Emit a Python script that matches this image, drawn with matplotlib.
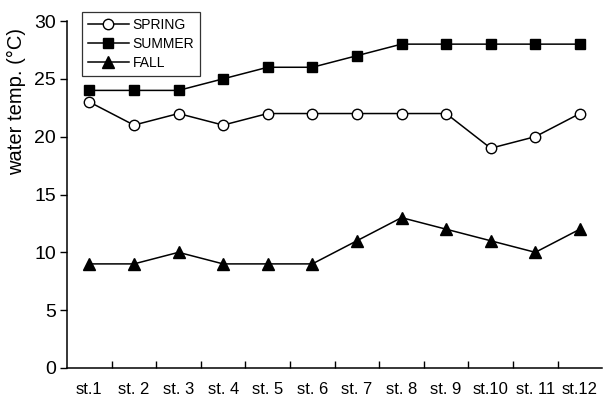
import numpy as np
import matplotlib.pyplot as plt

plt.rcParams['font.family'] = ['Liberation Sans', 'DejaVu Sans']

stations = ['st.1', 'st. 2', 'st. 3', 'st. 4', 'st. 5', 'st. 6',
            'st. 7', 'st. 8', 'st. 9', 'st.10', 'st. 11', 'st.12']
spring = [23, 21, 22, 21, 22, 22, 22, 22, 22, 19, 20, 22]
summer = [24, 24, 24, 25, 26, 26, 27, 28, 28, 28, 28, 28]
fall = [9, 9, 10, 9, 9, 9, 11, 13, 12, 11, 10, 12]

fig = plt.figure(figsize=(6.04, 4.0), dpi=100)
ax = fig.add_axes([0.111, 0.08, 0.886, 0.8675])

x = np.arange(len(stations))
ax.plot(x, spring, color='black', lw=1.1, marker='o', ms=7.5,
        mfc='white', mec='black', mew=1.0, label='SPRING')
ax.plot(x, summer, color='black', lw=1.1, marker='s', ms=7.5,
        mfc='black', mec='black', label='SUMMER')
ax.plot(x, fall, color='black', lw=1.1, marker='^', ms=8.5,
        mfc='black', mec='black', label='FALL')

ax.set_xlim(-0.5, len(stations) - 0.5)
ax.set_ylim(0, 30)
ax.set_yticks(range(0, 31, 5))
ax.set_xticks(x)
ax.set_xticklabels(stations, fontsize=12)
ax.set_xticks(np.arange(0.5, len(stations) - 0.5, 1), minor=True)
ax.tick_params(axis='x', which='major', length=0, pad=10)
ax.tick_params(axis='x', which='minor', direction='in', length=5, width=1)
ax.tick_params(axis='y', direction='out', length=5, width=1, labelsize=14, pad=3)
ax.set_ylabel('water temp. (°C)', fontsize=14.5)
ax.yaxis.set_label_coords(-0.076, 0.767)

for s in ['top', 'right']:
    ax.spines[s].set_visible(False)
for s in ['left', 'bottom']:
    ax.spines[s].set_linewidth(1.1)

leg = ax.legend(loc='upper left', bbox_to_anchor=(82 / 604, 1 - 12 / 400),
                bbox_transform=fig.transFigure, frameon=True, fancybox=False,
                edgecolor='black', fontsize=10, handlelength=3.0,
                borderpad=0.4, labelspacing=0.38, handletextpad=0.25,
                borderaxespad=0)
leg.get_frame().set_linewidth(0.9)

fig.savefig('out.png', dpi=100)
